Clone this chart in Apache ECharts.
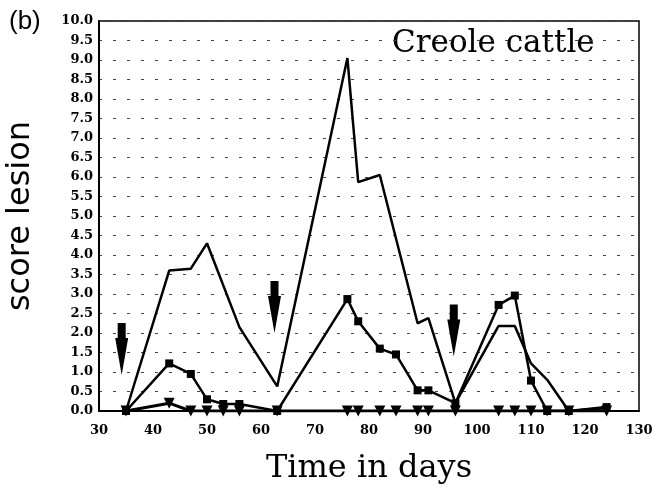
<!DOCTYPE html>
<html>
<head>
<meta charset="utf-8">
<script src="https://cdn.jsdelivr.net/npm/echarts@6/dist/echarts.min.js"></script>
<style>
  html, body { margin: 0; padding: 0; background: #fff; }
  #chart { width: 653px; height: 487px; }
</style>
</head>
<body>
<div id="chart"></div>
<script>
  // 天数 + 三组病变评分
  const plainLine = [
    [35, 0], [43, 3.6], [47, 3.65], [50, 4.3], [56, 2.15], [63, 0.63],
    [76, 9.05], [78, 5.87], [82, 6.05], [89, 2.25], [91, 2.38], [96, 0.2],
    [104, 2.18], [107, 2.18], [110, 1.22], [113, 0.8], [117, 0], [124, 0.08]
  ]
  const squareLine = [
    [35, 0], [43, 1.22], [47, 0.95], [50, 0.3], [53, 0.18], [56, 0.18], [63, 0],
    [76, 2.87], [78, 2.3], [82, 1.6], [85, 1.45], [89, 0.53], [91, 0.53], [96, 0.2],
    [104, 2.72], [107, 2.96], [110, 0.78], [113, 0], [117, 0], [124, 0.1]
  ]
  const triangleLine = [
    [35, 0], [43, 0.2], [47, 0], [50, 0], [53, 0], [56, 0], [63, 0],
    [76, 0], [78, 0], [82, 0], [85, 0], [89, 0], [91, 0], [96, 0],
    [104, 0], [107, 0], [110, 0], [113, 0], [117, 0], [124, 0]
  ]
  // 箭头（处理日）: 数值 = 箭头尖端
  const arrowDays = [34.2, 62.5, 95.7]
  const arrowTips = [0.92, 2.0, 1.4]

  const arrowPath = 'path://M2.5,0 L10.5,0 L10.5,15 L13,15 L6.5,52 L0,15 L2.5,15 Z'
  const labelFont = { fontFamily: 'DejaVu Serif', fontWeight: 'bold', fontSize: 13, color: '#000' }

  const chartDom = echarts.init(document.getElementById('chart'))
  chartDom.setOption({
    animation: false,
    backgroundColor: '#fff',
    title: {
      text: '(b)',
      left: 4,
      top: 4,
      textStyle: { fontFamily: 'Liberation Sans', fontWeight: 'normal', fontSize: 26, color: '#000' }
    },
    graphic: [
      {
        type: 'text',
        left: 392,
        top: 28,
        style: { text: 'Creole cattle', font: '31px "DejaVu Serif"', fill: '#000' }
      }
    ],
    grid: {
      left: 99,
      right: 14,
      top: 21,
      bottom: 76,
      outerBoundsMode: 'none',
      containLabel: false,
      show: true,
      borderColor: '#000',
      borderWidth: 1.5
    },
    xAxis: {
      type: 'value',
      min: 30,
      max: 130,
      interval: 10,
      name: 'Time in days',
      nameLocation: 'middle',
      nameGap: 42,
      nameTextStyle: { fontFamily: 'DejaVu Serif', fontSize: 32, color: '#000' },
      axisLine: { show: true, lineStyle: { color: '#000', width: 2 } },
      axisTick: { show: false },
      axisLabel: Object.assign({ margin: 13 }, labelFont),
      splitLine: { show: false }
    },
    yAxis: {
      type: 'value',
      min: 0,
      max: 10,
      interval: 0.5,
      name: 'score lesion',
      nameLocation: 'middle',
      nameGap: 62,
      nameTextStyle: { fontFamily: 'DejaVu Sans', fontSize: 32, color: '#000' },
      axisLine: { show: true, lineStyle: { color: '#000', width: 2 } },
      axisTick: { show: false },
      axisLabel: Object.assign({ margin: 6, formatter: (v) => v.toFixed(1) }, labelFont),
      splitLine: { show: true, lineStyle: { color: '#444', width: 1, type: [3, 11] } }
    },
    series: [
      {
        type: 'line',
        data: plainLine,
        showSymbol: false,
        symbol: 'none',
        lineStyle: { color: '#000', width: 2.5 },
        z: 3
      },
      {
        type: 'line',
        data: squareLine,
        symbol: 'rect',
        symbolSize: 8,
        itemStyle: { color: '#000' },
        lineStyle: { color: '#000', width: 2.5 },
        z: 4
      },
      {
        type: 'line',
        data: triangleLine,
        symbol: 'triangle',
        symbolRotate: 180,
        symbolSize: 11,
        itemStyle: { color: '#000' },
        lineStyle: { color: '#000', width: 3 },
        z: 5
      },
      {
        type: 'scatter',
        data: arrowDays.map((d, i) => [d, arrowTips[i]]),
        symbol: arrowPath,
        symbolSize: [13, 52],
        symbolOffset: [0, '-50%'],
        itemStyle: { color: '#000', opacity: 1 },
        z: 6
      }
    ]
  })
</script>
</body>
</html>
